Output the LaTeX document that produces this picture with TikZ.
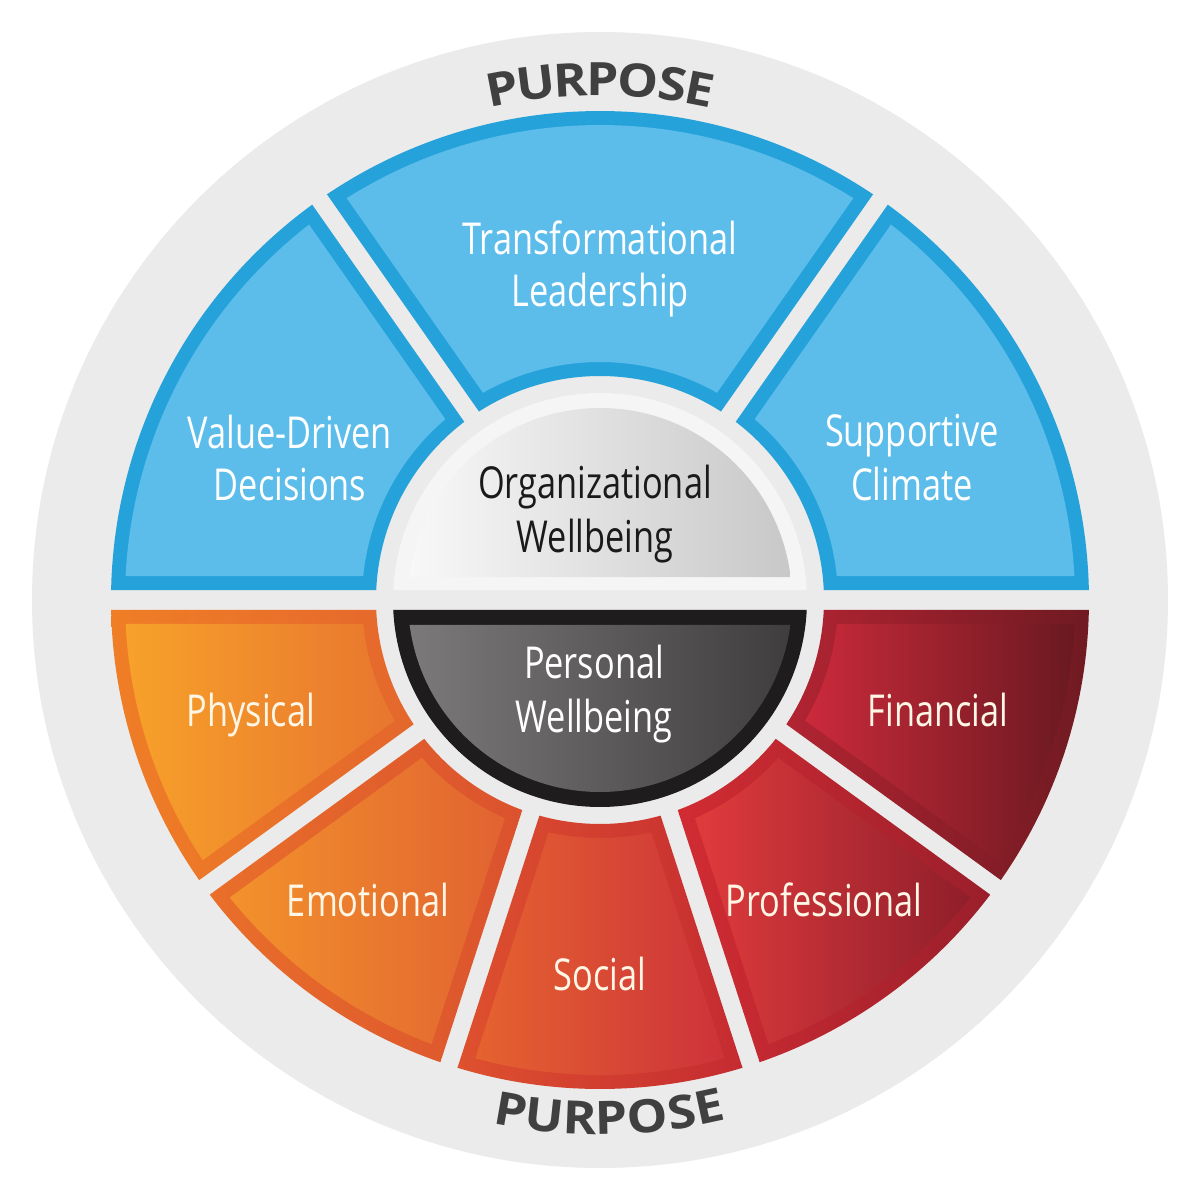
\documentclass[tikz,border=0pt]{standalone}
\usepackage{fontspec}
\setmainfont{Open Sans}
\newfontfamily\condfont{Open Sans}[FakeStretch=0.78]
\newfontfamily\purpfont{Open Sans}[FakeStretch=1.12]
\definecolor{bgray}{HTML}{EBEBEB}
\definecolor{blueB}{HTML}{26A2DB}
\definecolor{blueF}{HTML}{5CBDEB}
\definecolor{purpC}{HTML}{404040}
\definecolor{cream}{HTML}{FFF6E6}
\definecolor{phyBL}{HTML}{EF7E26}\definecolor{phyBR}{HTML}{E4672C}
\definecolor{phyFL}{HTML}{F7A12A}\definecolor{phyFR}{HTML}{E8762F}
\definecolor{emoBL}{HTML}{E96F2A}\definecolor{emoBR}{HTML}{DB522E}
\definecolor{emoFL}{HTML}{F3922C}\definecolor{emoFR}{HTML}{E16331}
\definecolor{socBL}{HTML}{DE512E}\definecolor{socBR}{HTML}{C52B31}
\definecolor{socFL}{HTML}{E5632F}\definecolor{socFR}{HTML}{CD323A}
\definecolor{proBL}{HTML}{D22C33}\definecolor{proBR}{HTML}{9A1F2B}
\definecolor{proFL}{HTML}{E03B3C}\definecolor{proFM}{HTML}{CB1F37}\definecolor{proFR}{HTML}{8F1E2B}
\definecolor{finBL}{HTML}{B22432}\definecolor{finBR}{HTML}{701A22}
\definecolor{finFL}{HTML}{CB2A3B}\definecolor{finFR}{HTML}{6A1920}
\definecolor{orgRim}{HTML}{F5F5F5}\definecolor{orgL}{HTML}{F8F8F8}\definecolor{orgR}{HTML}{C8C8C8}
\definecolor{perRim}{HTML}{1E1C1D}\definecolor{perL}{HTML}{7B797A}\definecolor{perR}{HTML}{3F3D3E}
\definecolor{darktext}{HTML}{1A1A1A}
\newcommand{\wsec}[6]{({#1+asin(#3/#6)}:#6) arc[start angle={#1+asin(#3/#6)}, end angle={#2-asin(#4/#6)}, radius=#6] -- ({#2-asin(#4/#5)}:#5) arc[start angle={#2-asin(#4/#5)}, end angle={#1+asin(#3/#5)}, radius=#5] -- cycle}
\begin{document}
\begin{tikzpicture}[x=0.5pt,y=0.5pt,
  lbl/.style={font=\condfont\fontsize{22}{26}\selectfont, text=white, anchor=base, inner sep=0pt},
  lblc/.style={lbl, text=cream},
  purp/.style={font=\purpfont\bfseries\fontsize{23}{27}\selectfont, text=purpC, inner sep=0pt, anchor=center}]
\useasboundingbox (-600,-600) rectangle (600,600);
\fill[white] (-600,-600) rectangle (600,600);
\fill[bgray] (0,0) circle[radius=568];
% blue sectors
\fill[blueB] \wsec{125}{180}{9}{10}{224}{489};
\fill[blueF] \wsec{125}{180}{23}{24}{238}{475};
\fill[blueB] \wsec{55}{125}{9}{9}{224}{489};
\fill[blueF] \wsec{55}{125}{23}{23}{238}{475};
\fill[blueB] \wsec{0}{55}{10}{9}{224}{489};
\fill[blueF] \wsec{0}{55}{24}{23}{238}{475};
% physical
\shade[left color=phyBL, right color=phyBR] \wsec{180}{216}{10}{9}{224}{489};
\shade[left color=phyFL, right color=phyFR] \wsec{180}{216}{24}{23}{238}{475};
% emotional
\shade[left color=emoBL, right color=emoBR] \wsec{216}{252}{9}{9}{224}{489};
\shade[left color=emoFL, right color=emoFR] \wsec{216}{252}{23}{23}{238}{475};
% social
\shade[left color=socBL, right color=socBR] \wsec{252}{288}{9}{9}{224}{489};
\shade[left color=socFL, right color=socFR] \wsec{252}{288}{23}{23}{238}{475};
% professional
\shade[left color=proBL, right color=proBR] \wsec{288}{324}{9}{9}{224}{489};
\shade[left color=proFL, middle color=proFM, right color=proFR] \wsec{288}{324}{23}{23}{238}{475};
% financial
\shade[left color=finBL, right color=finBR] \wsec{324}{360}{9}{10}{224}{489};
\shade[left color=finFL, right color=finFR] \wsec{324}{360}{23}{24}{238}{475};
% center: organizational
\fill[orgRim] ({asin(10/207)}:207) arc[start angle={asin(10/207)}, end angle={180-asin(10/207)}, radius=207] -- cycle;
\shade[left color=orgL, right color=orgR] ({asin(23/192)}:192) arc[start angle={asin(23/192)}, end angle={180-asin(23/192)}, radius=192] -- cycle;
% center: personal
\fill[perRim] ({180+asin(10/207)}:207) arc[start angle={180+asin(10/207)}, end angle={360-asin(10/207)}, radius=207] -- cycle;
\shade[left color=perL, right color=perR] ({180+asin(25/192)}:192) arc[start angle={180+asin(25/192)}, end angle={360-asin(25/192)}, radius=192] -- cycle;
% labels
\node[lbl] (tl1) at (0,345) {Transformational};
\node[lbl] (tl2) at (0,293) {Leadership};
\node[lbl] (vd1) at (-310,152) {Value-Driven};
\node[lbl] (vd2) at (-310,100) {Decisions};
\node[lbl] (sc1) at (312,154) {Supportive};
\node[lbl] (sc2) at (312,100) {Climate};
\node[lbl, text=darktext] (ow1) at (-5,102) {Organizational};
\node[lbl, text=darktext] (ow2) at (-5,48) {Wellbeing};
\node[lbl] (pw1) at (-6,-78) {Personal};
\node[lbl] (pw2) at (-6,-132) {Wellbeing};
\node[lblc] (phy) at (-349,-126) {Physical};
\node[lblc] (emo) at (-232,-316) {Emotional};
\node[lblc] (soc) at (0,-390) {Social};
\node[lblc] (pro) at (224,-316) {Professional};
\node[lblc] (fin) at (338,-126) {Financial};
% PURPOSE
\foreach \l/\o [count=\i] in {P/-10.85, U/-7.07, R/-3.22, P/0.30, O/4.24, S/8.0, E/11.07}{
  \node[purp, rotate={-\o}] (pt\i) at ({90-\o}:521) {\l};
  \node[purp, rotate={\o*1.006+1}] (pb\i) at ({270+\o*1.006+1}:518) {\l};
}
\end{tikzpicture}
\end{document}
